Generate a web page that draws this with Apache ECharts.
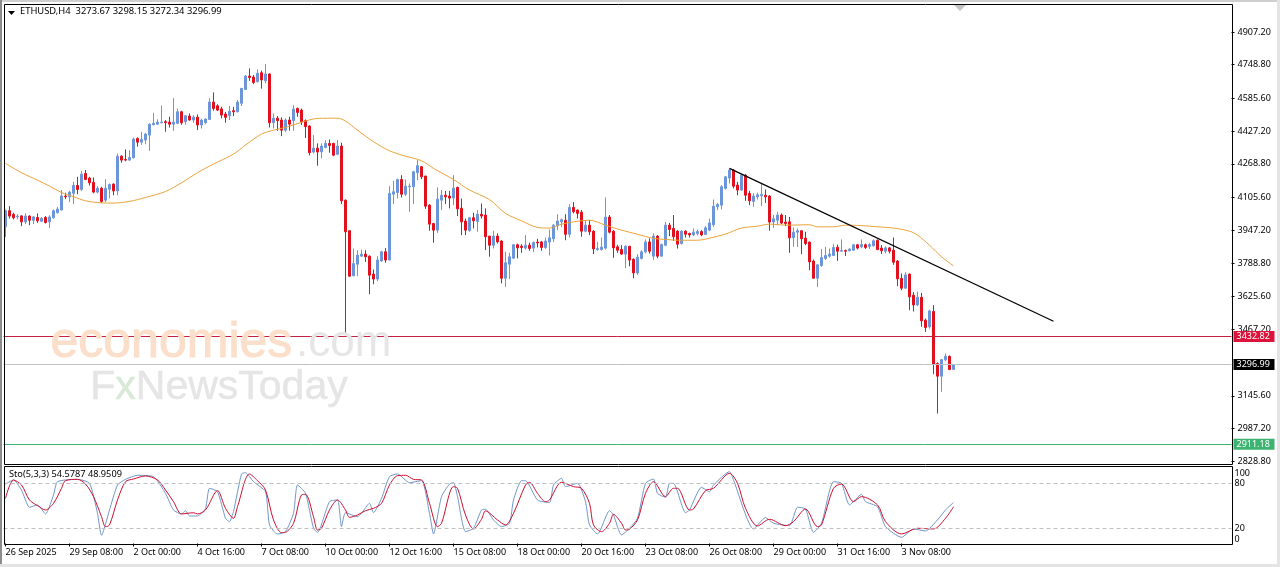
<!DOCTYPE html>
<html>
<head>
<meta charset="utf-8">
<title>ETHUSD H4</title>
<style>
  html, body { margin: 0; padding: 0; background: #fff; }
  #chart { width: 1280px; height: 567px; }
</style>
<script src="https://cdn.jsdelivr.net/npm/echarts@6/dist/echarts.min.js"></script>
</head>
<body>
<div id="chart"></div>
<script>
// 4h bars as open, close, low, high
var candles = [
  [3964,4042,3915,4048],[4042,4016,4004,4064],[4024,4008,4000,4032],[4012,4016,4000,4025],[4017,3988,3967,4020],
  [3988,4016,3977,4029],[4016,3996,3972,4020],[3996,4012,3977,4016],[4009,3993,3983,4029],[3991,4004,3988,4012],
  [4009,3985,3980,4016],[3988,4012,3958,4020],[4008,4042,4003,4048],[4032,4050,4029,4061],[4045,4113,4045,4142],
  [4113,4109,4098,4129],[4109,4132,4084,4138],[4126,4164,4074,4182],[4164,4145,4122,4206],[4145,4219,4138,4235],
  [4222,4193,4190,4239],[4200,4177,4164,4206],[4180,4132,4126,4203],[4132,4151,4126,4161],[4151,4087,4080,4158],
  [4093,4151,4084,4195],[4146,4169,4101,4174],[4171,4138,4117,4174],[4138,4306,4117,4319],[4306,4287,4274,4311],
  [4290,4287,4281,4339],[4287,4300,4284,4335],[4298,4389,4295,4395],[4392,4374,4352,4397],[4374,4387,4361,4424],
  [4384,4413,4364,4419],[4408,4461,4332,4465],[4458,4465,4455,4516],[4461,4471,4458,4484],[4468,4471,4465,4552],
  [4473,4468,4424,4481],[4471,4461,4445,4497],[4461,4471,4429,4587],[4465,4521,4461,4537],[4521,4468,4458,4526],
  [4473,4502,4458,4505],[4500,4481,4478,4513],[4481,4495,4468,4505],[4495,4457,4432,4508],[4457,4481,4440,4487],
  [4468,4486,4461,4489],[4484,4568,4481,4587],[4568,4537,4526,4615],[4550,4529,4524,4557],[4535,4505,4489,4545],
  [4510,4494,4468,4520],[4502,4524,4481,4549],[4526,4521,4500,4545],[4521,4568,4518,4578],[4562,4634,4549,4637],
  [4629,4694,4626,4699],[4694,4687,4671,4731],[4689,4663,4655,4699],[4667,4707,4662,4726],[4710,4675,4633,4720],
  [4671,4704,4658,4752],[4704,4468,4445,4707],[4468,4490,4440,4513],[4490,4478,4429,4500],[4481,4432,4403,4494],
  [4432,4481,4423,4490],[4481,4461,4429,4497],[4478,4534,4429,4553],[4537,4518,4497,4542],[4529,4473,4457,4537],
  [4478,4449,4394,4484],[4452,4323,4310,4455],[4326,4345,4319,4408],[4345,4326,4260,4368],[4327,4355,4295,4368],
  [4348,4368,4344,4384],[4368,4358,4323,4387],[4368,4311,4306,4371],[4315,4355,4311,4384],[4355,4090,4074,4371],
  [4093,3940,3444,4096],[3945,3725,3722,3948],[3727,3786,3725,3859],[3783,3827,3725,3851],[3822,3832,3819,3854],
  [3832,3819,3794,3851],[3822,3730,3638,3825],[3735,3711,3686,3757],[3711,3803,3701,3822],[3799,3843,3794,3848],
  [3843,3803,3790,3861],[3803,4126,3803,4161],[4122,4134,4074,4187],[4130,4193,4101,4197],[4193,4122,4106,4214],
  [4122,4161,4113,4193],[4158,4161,4037,4174],[4158,4231,4074,4235],[4226,4260,4190,4287],[4255,4206,4195,4258],
  [4210,4064,4051,4210],[4069,3977,3945,4074],[3980,3948,3887,3983],[3948,4098,3935,4155],[4093,4117,4045,4142],
  [4117,4109,4074,4138],[4113,4103,4053,4138],[4103,4151,4069,4214],[4155,4051,4016,4158],[4054,3988,3924,4101],
  [3992,3948,3924,4004],[3946,4008,3940,4012],[4008,3993,3956,4032],[3990,4025,3940,4045],[4025,4016,4004,4077],
  [4021,3916,3851,4053],[3919,3875,3819,3919],[3875,3919,3859,3945],[3919,3891,3883,3932],[3895,3715,3690,3899],
  [3715,3790,3673,3843],[3783,3819,3711,3838],[3812,3877,3809,3880],[3877,3862,3811,3883],[3870,3864,3838,3880],
  [3861,3875,3854,3924],[3875,3859,3848,3887],[3861,3888,3841,3893],[3890,3886,3864,3906],[3891,3864,3848,3896],
  [3864,3895,3857,3912],[3890,3911,3825,3951],[3906,3972,3890,3977],[3969,3992,3948,4025],[3988,3998,3964,4004],
  [3996,3928,3899,4025],[3928,4058,3912,4074],[4058,4037,4029,4084],[4045,4029,4004,4048],[4035,3943,3916,4045],
  [3943,3972,3938,3996],[3972,3940,3924,3996],[3943,3857,3832,3948],[3854,3859,3848,3891],[3854,3866,3848,3912],
  [3861,4011,3854,4106],[4011,3938,3932,4021],[3943,3862,3814,3948],[3867,3851,3838,3877],[3854,3832,3828,3875],
  [3832,3870,3764,3875],[3870,3803,3773,3870],[3807,3741,3715,3811],[3741,3817,3731,3832],[3811,3843,3806,3851],
  [3843,3891,3835,3903],[3891,3846,3835,3908],[3822,3919,3803,3932],[3919,3822,3812,3924],[3822,3878,3819,3883],
  [3875,3972,3870,3988],[3972,3951,3919,3983],[3956,3916,3896,4021],[3943,3880,3859,3948],[3883,3943,3878,3948],
  [3943,3928,3912,3948],[3932,3925,3912,3935],[3925,3938,3919,3956],[3932,3941,3922,3951],[3941,3925,3919,3948],
  [3927,3959,3924,3967],[3948,3983,3943,4004],[3974,4064,3964,4096],[4061,4072,4045,4080],[4069,4158,4048,4166],
  [4150,4206,4145,4210],[4200,4239,4174,4247],[4239,4161,4150,4242],[4166,4142,4117,4182],[4142,4214,4138,4222],
  [4214,4117,4090,4219],[4126,4090,4069,4138],[4087,4113,4061,4126],[4109,4119,4096,4129],[4114,4121,4064,4174],
  [4117,4109,4080,4145],[4113,3987,3945,4117],[3987,4003,3959,4021],[3996,4021,3972,4037],[4021,3982,3977,4029],
  [3987,3980,3967,4021],[3988,3911,3838,4012],[3911,3938,3867,3961],[3938,3945,3867,3956],[3945,3906,3832,3948],
  [3909,3883,3875,3940],[3890,3794,3754,3893],[3798,3715,3714,3806],[3715,3780,3673,3783],[3777,3815,3770,3857],
  [3811,3825,3803,3867],[3822,3832,3815,3859],[3825,3864,3822,3880],[3865,3846,3799,3878],[3846,3849,3843,3903],
  [3849,3846,3823,3854],[3848,3856,3845,3861],[3851,3877,3848,3880],[3877,3861,3854,3880],[3867,3878,3861,3903],
  [3877,3864,3857,3883],[3869,3878,3857,3886],[3872,3896,3869,3903],[3899,3854,3851,3903],[3861,3848,3832,3875],
  [3846,3862,3835,3870],[3862,3846,3835,3867],[3851,3793,3780,3912],[3798,3712,3677,3803],[3714,3667,3657,3738],
  [3667,3731,3664,3744],[3735,3625,3560,3738],[3633,3586,3554,3648],[3586,3623,3580,3651],[3623,3509,3480,3644],
  [3512,3476,3455,3520],[3480,3557,3471,3563],[3554,3299,3250,3585],[3302,3241,3060,3308],[3241,3321,3165,3324],
  [3320,3337,3315,3350],[3337,3273,3270,3341],[3273.67,3296.99,3272.34,3298.15]
];

// orange moving average, as [bar, price]
var maLine = [
  [0,4271],[4,4226],[8,4190],[11,4161],[14,4130],[17,4110],[20,4090],[24,4080],[27,4079],[31,4087],[35,4106],[40,4135],
  [44,4177],[48,4226],[52,4268],[57,4316],[60,4360],[64,4413],[67,4432],[70,4445],[74,4470],[78,4489],[83,4490],[85,4476],
  [88,4432],[92,4376],[96,4332],[100,4306],[104,4284],[107,4247],[112,4193],[116,4142],[121,4096],[125,4029],[129,3993],
  [133,3961],[136,3958],[139,3977],[142,3988],[146,3996],[150,3972],[154,3948],[158,3928],[162,3908],[165,3903],[168,3899],
  [173,3899],[176,3909],[180,3929],[184,3958],[188,3967],[191,3977],[195,3972],[201,3974],[203,3964],[207,3964],[210,3972],
  [214,3970],[218,3964],[222,3958],[226,3943],[228,3924],[231,3875],[234,3819],[237,3775]
];

// hand drawn trend line, [bar, price]
var trendLine = [[181,4247],[262,3507]];

// stochastic %K and %D, as [bar, value]
var stoMain = [
  [0,79.3],[2,84.7],[4,71.3],[6,48.3],[8,51.4],[10,39.4],[12,64.7],[13,82.4],[18,85.5],[21,80.2],[23,40.3],[24,10.9],
  [26,44.7],[28,78],[30,85.5],[33,90.9],[37,89.1],[40,66.9],[42,44.7],[44,39.4],[45,43.8],[46,36.7],[48,36.7],[50,46.9],
  [51,73.6],[53,69.1],[55,33.6],[56,29.2],[57,42.5],[59,92.7],[60,94.4],[62,82.4],[65,69.1],[66,24.7],[68,12.7],[70,15.8],
  [72,40.3],[73,78],[75,66.9],[77,20.3],[78,14.9],[81,55.8],[83,58],[84,22.5],[85,41.1],[88,35.8],[89,40.3],[91,53.6],
  [92,41.1],[94,60.2],[96,89.1],[98,92.7],[101,81.1],[104,83.8],[106,40.3],[107,12.7],[109,62.5],[111,79.3],[112,81.1],
  [113,62.5],[115,15.8],[117,20.3],[119,44.7],[120,45.6],[122,31.4],[124,22.5],[126,27],[127,58],[129,83.8],[130,83.8],
  [133,58],[136,54.5],[137,78],[139,86.9],[140,75.8],[143,80.2],[145,55.8],[146,24.7],[148,12.7],[151,43.8],[152,38],
  [154,11.4],[156,20.3],[158,33.6],[160,80.2],[162,86],[163,66.9],[165,61.6],[166,80.2],[167,80.2],[170,41.1],[171,44.7],
  [174,74.9],[176,69.1],[177,78],[181,95.8],[182,84.7],[187,19.4],[190,34.5],[192,27],[196,23.8],[198,48.3],[200,46],
  [202,14.9],[204,27],[207,82.4],[209,80.2],[211,51.4],[214,65.6],[215,55.8],[218,49.1],[220,22.5],[224,8.3],[227,19.4],
  [230,16.7],[233,31.4],[235,44.7],[237,54.58]
];
var stoSignal = [
  [0,60.2],[2,84.7],[4,78],[6,58],[8,50.5],[10,44.7],[12,53.6],[14,73.6],[15,83.8],[18,85.5],[20,79.3],[22,62.5],[24,35.8],
  [25,22.5],[26,24.7],[28,58],[30,82.4],[32,86],[35,90],[38,84.7],[40,71.3],[42,55.8],[44,39.4],[47,41],[48,39.4],[50,44.7],
  [53,70.5],[55,46.9],[57,33.6],[58,49.1],[61,92.7],[63,83.8],[65,71.3],[67,31.4],[69,14.5],[70,14.9],[72,27],[74,64.7],
  [75,65.6],[77,35.8],[78,18],[79,20.3],[81,44.7],[83,58],[85,44.7],[86,34.9],[88,38],[90,43.8],[92,46.9],[94,53.6],[96,78],
  [98,90.4],[100,90.9],[102,85.5],[104,84.7],[106,53.6],[108,22.5],[109,27],[112,75.8],[113,73.6],[115,38],[117,19.4],
  [119,32.3],[120,43.4],[123,31.4],[125,24.7],[127,40.3],[130,78],[131,81.5],[133,66.9],[135,55.8],[136,58],[139,81.5],
  [142,75.8],[144,73.6],[146,53.6],[147,24.7],[149,15.8],[151,27],[152,38.9],[154,27],[155,18],[156,19],[158,31.4],[160,66.9],
  [162,82.4],[165,62.5],[167,73.6],[168,73.6],[171,44.7],[172,46],[175,70.5],[177,73.6],[181,93.5],[183,80.2],[185,46.9],
  [188,23.4],[191,32.3],[195,23.8],[197,29.2],[200,46],[203,22.5],[204,24.7],[207,73.6],[209,79.3],[212,55.8],[214,62.5],
  [218,51.4],[220,29.2],[224,12.7],[228,20.3],[232,19.4],[235,33.6],[237,48.95]
];

var priceTicks = [4907.20, 4748.80, 4585.60, 4427.20, 4268.80, 4105.60, 3947.20, 3788.80, 3625.60, 3467.20, 3145.60, 2987.20, 2828.80];
var stoTicks = [0, 20, 80, 100];
var stoLevels = [20, 80];
var levelLines = [3432.82, 3296.99, 2911.18];
var levelColors = ['#dc143c', '#000000', '#3cb371'];
var levelStroke = ['#c4203f', '#c0c0c0', '#3cb371'];
var dateLabels = ['26 Sep 2025', '29 Sep 08:00', '2 Oct 00:00', '4 Oct 16:00', '7 Oct 08:00', '10 Oct 00:00', '12 Oct 16:00', '15 Oct 08:00',
  '18 Oct 00:00', '20 Oct 16:00', '23 Oct 08:00', '26 Oct 08:00', '29 Oct 00:00', '31 Oct 16:00', '3 Nov 08:00'];
var barsPerLabel = 16;
var slotCount = 307; // room for the empty space on the right

var categories = [];
for (var i = 0; i < slotCount; i++) {
  categories.push(dateLabels[i / barsPerLabel] || '');
}

var font = '"Noto Sans", Arial, sans-serif';
var markFont = '"Liberation Sans", Arial, sans-serif';
var upColor = '#6c96da';
var downColor = '#e0101c';

function isLabelBar(idx) {
  return idx % barsPerLabel === 0 && idx / barsPerLabel < dateLabels.length;
}

var myChart = echarts.init(document.getElementById('chart'), null, { renderer: 'canvas' });

var option = {
  animation: false,
  backgroundColor: '#fff',
  title: [
    { text: 'ETHUSD,H4  3273.67 3298.15 3272.34 3296.99', left: 20, top: 7, padding: 0,
      textStyle: { fontFamily: font, fontSize: 9.4, fontWeight: 'normal', color: '#000' } },
    { text: 'Sto(5,3,3) 54.5787 48.9509', left: 9, top: 470, padding: 0,
      textStyle: { fontFamily: font, fontSize: 9.2, fontWeight: 'normal', color: '#000' } }
  ],
  grid: [
    { left: 3.5, top: 4, width: 1228, height: 460 },
    { left: 3.5, top: 467, width: 1228, height: 77 }
  ],
  xAxis: [
    { type: 'category', gridIndex: 0, data: categories, boundaryGap: true,
      axisLine: { show: false }, axisTick: { show: false }, axisLabel: { show: false }, splitLine: { show: false } },
    { type: 'category', gridIndex: 1, data: categories, boundaryGap: true,
      axisLine: { show: false },
      axisTick: { show: true, alignWithLabel: true, length: 3, interval: isLabelBar, lineStyle: { color: '#000' } },
      axisLabel: { show: true, interval: isLabelBar, align: 'left', margin: 4, fontFamily: font, fontSize: 9, color: '#000', hideOverlap: false },
      splitLine: { show: false } }
  ],
  yAxis: [
    { type: 'value', gridIndex: 0, position: 'right', min: 2815.7, max: 5042.8, scale: true,
      axisLine: { show: false },
      axisTick: { show: true, length: 3, customValues: priceTicks, lineStyle: { color: '#000' } },
      axisLabel: { show: true, customValues: priceTicks, margin: 6, fontFamily: font, fontSize: 9, color: '#000',
        formatter: function (v) { return v.toFixed(2); } },
      splitLine: { show: false } },
    { type: 'value', gridIndex: 1, position: 'right', min: -0.67, max: 102,
      axisLine: { show: false }, axisTick: { show: false },
      axisLabel: { show: true, customValues: stoTicks, margin: 3, fontFamily: font, fontSize: 9, color: '#000',
        verticalAlignMinLabel: 'bottom', verticalAlignMaxLabel: 'top' },
      splitLine: { show: false } }
  ],
  series: [
    { name: 'ETHUSD', type: 'candlestick', xAxisIndex: 0, yAxisIndex: 0, barWidth: 3, data: candles,
      itemStyle: { color: upColor, color0: downColor, borderColor: upColor, borderColor0: downColor, borderWidth: 1 },
      markLine: {
        symbol: 'none', silent: true, animation: false,
        data: levelLines.map(function (v, idx) {
          return {
            yAxis: v,
            lineStyle: { color: levelStroke[idx], width: 1, type: 'solid' },
            label: { show: true, position: 'end', distance: 2, formatter: v.toFixed(2), color: '#fff', fontFamily: font, fontSize: 9,
              backgroundColor: levelColors[idx], padding: [1, 3, 1, 3], width: 35, height: 9, lineHeight: 9, align: 'left', verticalAlign: 'middle' }
          };
        })
      } },
    { name: 'MA', type: 'line', xAxisIndex: 0, yAxisIndex: 0, data: maLine, showSymbol: false, z: 3, smooth: 0.3,
      lineStyle: { color: '#e8a33c', width: 1 } },
    { name: 'Trend', type: 'line', xAxisIndex: 0, yAxisIndex: 0, data: trendLine, showSymbol: false, z: 4,
      lineStyle: { color: '#000', width: 1.2 } },
    { name: '%K', type: 'line', xAxisIndex: 1, yAxisIndex: 1, data: stoMain, showSymbol: false, smooth: 0.2,
      lineStyle: { color: '#7097c8', width: 1 },
      markLine: { symbol: 'none', silent: true, animation: false, label: { show: false },
        lineStyle: { color: '#c0c0c0', width: 1, type: [4, 3] },
        data: stoLevels.map(function (v) { return { yAxis: v }; }) } },
    { name: '%D', type: 'line', xAxisIndex: 1, yAxisIndex: 1, data: stoSignal, showSymbol: false, smooth: 0.3,
      lineStyle: { color: '#cc1030', width: 1 } }
  ],
  graphic: [
    // chart frames
    { type: 'rect', z: 150, shape: { x: 4.5, y: 4.5, width: 1228, height: 460 }, style: { fill: 'none', stroke: '#000', lineWidth: 1 } },
    { type: 'rect', z: 150, shape: { x: 4.5, y: 466.5, width: 1228, height: 78 }, style: { fill: 'none', stroke: '#000', lineWidth: 1 } },
    // window edges
    { type: 'rect', z: 200, shape: { x: 0, y: 0, width: 1280, height: 2 }, style: { fill: '#cfcfcf' } },
    { type: 'rect', z: 200, shape: { x: 0, y: 0, width: 2, height: 564 }, style: { fill: '#8c8c8c' } },
    { type: 'rect', z: 200, shape: { x: 1277, y: 0, width: 3, height: 567 }, style: { fill: '#e4e4e4' } },
    { type: 'rect', z: 200, shape: { x: 0, y: 564, width: 1280, height: 3 }, style: { fill: '#e4e4e4' } },
    // symbol menu arrow and the shift marker on top
    { type: 'polygon', z: 200, shape: { points: [[8, 11], [15, 11], [11.5, 15]] }, style: { fill: '#000' } },
    { type: 'polygon', z: 200, shape: { points: [[954, 5], [966, 5], [960, 11]] }, style: { fill: '#c4c4c4' } },
    // watermark
    { type: 'text', z: 100, left: 50, top: 318, style: { text: 'economies', font: '50px ' + markFont, fill: '#fbdfcb', stroke: '#fbdfcb', lineWidth: 1 } },
    { type: 'text', z: 100, left: 296, top: 322, style: { text: '.com', font: '44px ' + markFont, fill: '#e6e6e6' } },
    { type: 'text', z: 100, left: 90, top: 367, style: {
      text: '{a|F}{g|x}{a|NewsToday}',
      rich: {
        a: { font: '41px ' + markFont, fill: '#e5e5e5', stroke: '#e5e5e5', lineWidth: 0.5 },
        g: { font: '41px ' + markFont, fill: '#d8e9d8', stroke: '#d8e9d8', lineWidth: 0.5 }
      } } }
  ]
};
myChart.setOption(option, true);
</script>
</body>
</html>
